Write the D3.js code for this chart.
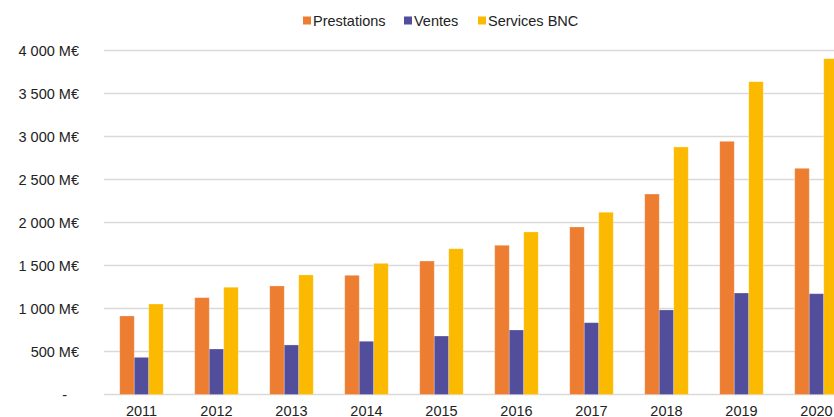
<!DOCTYPE html>
<html>
<head>
<meta charset="utf-8">
<script src="https://cdn.jsdelivr.net/npm/d3@7"></script>
<style>
  body { margin: 0; background: #fff; }
  svg { display: block; font-family: "Liberation Sans", Arial, sans-serif; }
</style>
</head>
<body>
<svg width="834" height="417"></svg>
<script>
var years = ["2011", "2012", "2013", "2014", "2015", "2016", "2017", "2018", "2019", "2020"];
var seriesNames = ["Prestations", "Ventes", "Services BNC"];
var prestations = [913, 1126, 1262, 1386, 1552, 1735, 1948, 2331, 2944, 2630];
var ventes = [432, 529, 576, 619, 680, 750, 835, 983, 1180, 1172];
var servicesBNC = [1052, 1247, 1390, 1525, 1695, 1890, 2119, 2878, 3637, 3905];
var yTicks = [0, 500, 1000, 1500, 2000, 2500, 3000, 3500, 4000];
var colors = ["#ED7D31", "#534E9B", "#FBBA00"];

var svg = d3.select("svg"),
    width = +svg.attr("width"),
    height = +svg.attr("height");

var plotLeft = 104, plotTop = 50.5, plotBottom = 394.5;
var fontSize = "14.5px";

// the chart goes past the right edge of the picture, the last group is cut
var x0 = d3.scaleBand().domain(years).range([plotLeft, plotLeft + 75 * years.length]).paddingInner(0.42).paddingOuter(0.21);
var x1 = d3.scaleBand().domain(seriesNames).range([0, x0.bandwidth()]);
var y = d3.scaleLinear().domain([0, 4000]).range([plotBottom, plotTop]);

var data = years.map(function(yr, i) {
  return { year: yr, values: [prestations[i], ventes[i], servicesBNC[i]] };
});

// gridlines
svg.append("g").selectAll("line")
  .data(yTicks)
  .enter().append("line")
  .attr("x1", plotLeft).attr("x2", width)
  .attr("y1", function(d) { return y(d); })
  .attr("y2", function(d) { return y(d); })
  .style("stroke", "#d9d9d9")
  .style("stroke-width", 1.5);

// y labels
var fmt = function(d) {
  return d === 0 ? "-" : d3.format(",")(d).replace(",", " ") + " M€";
};
svg.append("g").selectAll("text")
  .data(yTicks)
  .enter().append("text")
  .attr("x", function(d) { return d === 0 ? 67 : 79; })
  .attr("y", function(d) { return y(d); })
  .attr("dy", "0.35em")
  .attr("text-anchor", "end")
  .style("font-size", fontSize)
  .style("fill", "#222")
  .text(fmt);

// bars
var groups = svg.append("g").selectAll("g")
  .data(data)
  .enter().append("g")
  .attr("transform", function(d) { return "translate(" + x0(d.year) + ",0)"; });

groups.selectAll("rect")
  .data(function(d) { return d.values.map(function(v, j) { return { name: seriesNames[j], value: v, idx: j }; }); })
  .enter().append("rect")
  .attr("x", function(d) { return x1(d.name); })
  .attr("width", x1.bandwidth())
  .attr("y", function(d) { return y(d.value); })
  .attr("height", function(d) { return y(0) - y(d.value); })
  .attr("fill", function(d) { return colors[d.idx]; })
  .style("stroke", "#fff")
  .style("stroke-opacity", 0.3)
  .style("stroke-width", 0.8);

// x labels
svg.append("g").selectAll("text")
  .data(years)
  .enter().append("text")
  .attr("x", function(d) { return x0(d) + x0.bandwidth() / 2; })
  .attr("y", 416)
  .attr("text-anchor", "middle")
  .style("font-size", fontSize)
  .style("fill", "#222")
  .text(function(d) { return d; });

// legend
var legendX = [303, 404, 478];
var legend = svg.append("g").selectAll("g")
  .data(seriesNames)
  .enter().append("g")
  .attr("transform", function(d, i) { return "translate(" + legendX[i] + ",16.5)"; });
legend.append("rect")
  .attr("width", 8).attr("height", 8)
  .attr("fill", function(d, i) { return colors[i]; });
legend.append("text")
  .attr("x", 10).attr("y", 4)
  .attr("dy", "0.35em")
  .style("font-size", fontSize)
  .style("fill", "#222")
  .text(function(d) { return d; });
</script>
</body>
</html>
